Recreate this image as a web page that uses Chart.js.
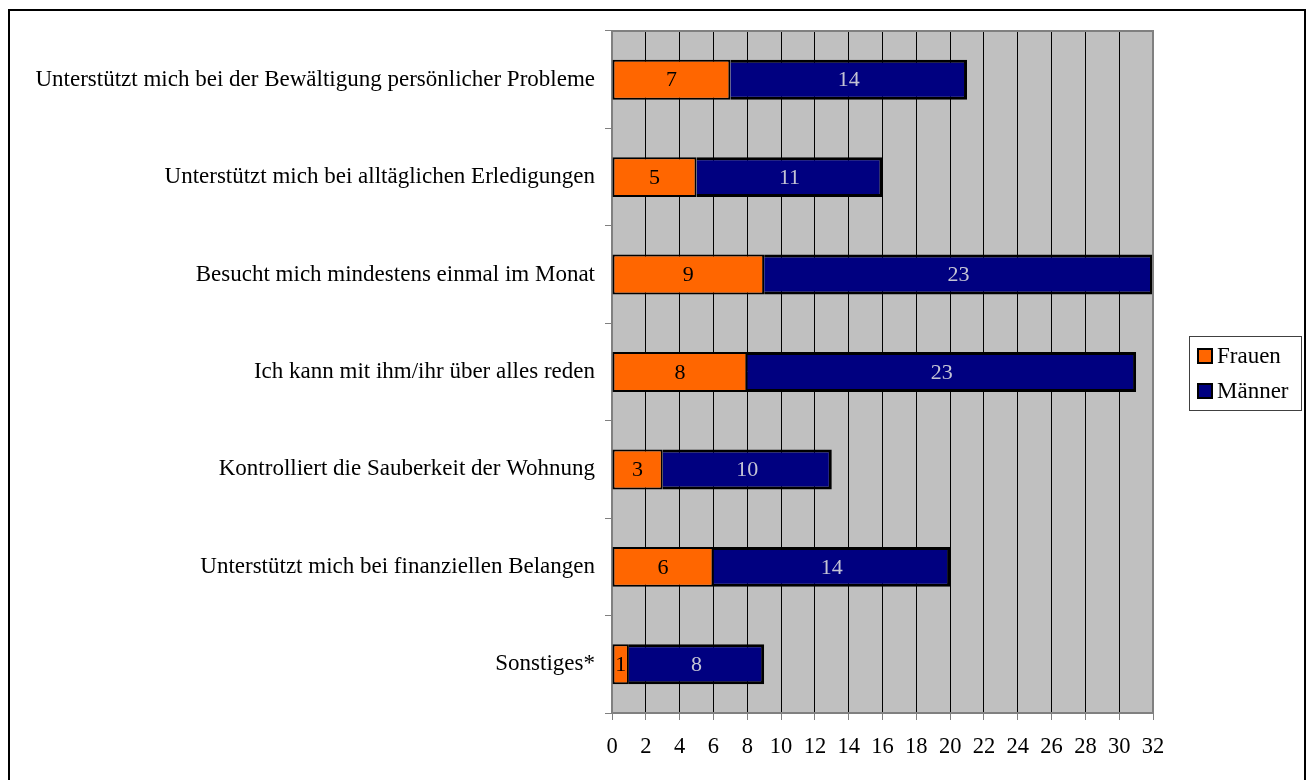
<!DOCTYPE html>
<html>
<head>
<meta charset="utf-8">
<script src="https://cdn.jsdelivr.net/npm/chart.js@4/dist/chart.umd.min.js"></script>
<style>
    body { margin: 0; background: #fff; }
    canvas { display: block; }
</style>
</head>
<body>
<canvas id="chart" width="1310" height="780"></canvas>
<script>
var categories = [
    "Unterstützt mich bei der Bewältigung persönlicher Probleme",
    "Unterstützt mich bei alltäglichen Erledigungen",
    "Besucht mich mindestens einmal im Monat",
    "Ich kann mit ihm/ihr über alles reden",
    "Kontrolliert die Sauberkeit der Wohnung",
    "Unterstützt mich bei finanziellen Belangen",
    "Sonstiges*"
];
var frauen = [7, 5, 9, 8, 3, 6, 1];
var maenner = [14, 11, 23, 23, 10, 14, 8];
var seriesNames = ["Frauen", "Männer"];

var FONT = "'Liberation Serif', 'Times New Roman', serif";

// gray plot background + border, outer frame
var plotBackground = {
    id: 'plotBackground',
    beforeDraw: function(chart){
        var ctx = chart.ctx, a = chart.chartArea;
        ctx.save();
        ctx.fillStyle = '#fff';
        ctx.fillRect(0, 0, chart.width, chart.height);
        ctx.fillStyle = '#C0C0C0';
        ctx.fillRect(a.left, a.top, a.right - a.left, a.bottom - a.top);
        ctx.restore();
    },
    afterDraw: function(chart){
        var ctx = chart.ctx, a = chart.chartArea;
        ctx.save();
        ctx.strokeStyle = '#808080';
        ctx.lineWidth = 2;
        ctx.beginPath();
        ctx.moveTo(a.left, a.top);
        ctx.lineTo(a.right, a.top);
        ctx.lineTo(a.right, a.bottom);
        ctx.stroke();
        // outer frame
        ctx.strokeStyle = '#000';
        ctx.lineWidth = 2;
        ctx.strokeRect(9, 10, 1296, 790);
        ctx.restore();
    }
};

// numbers in the middle of each bar segment
var valueLabels = {
    id: 'valueLabels',
    afterDatasetsDraw: function(chart){
        var ctx = chart.ctx;
        ctx.save();
        ctx.font = '22px ' + FONT;
        ctx.textAlign = 'center';
        ctx.textBaseline = 'middle';
        chart.data.datasets.forEach(function(ds, di){
            var meta = chart.getDatasetMeta(di);
            ctx.fillStyle = di == 0 ? '#000' : '#C4C4D4';
            meta.data.forEach(function(el, i){
                var p = el.getProps(['x', 'y', 'base'], true);
                ctx.fillText(ds.data[i], (p.x + p.base) / 2, p.y + 1);
            });
        });
        ctx.restore();
    }
};

// legend box on the right
var boxLegend = {
    id: 'boxLegend',
    afterDraw: function(chart){
        var ctx = chart.ctx;
        var left = 1189, top = 336, w = 112, h = 74;
        ctx.save();
        ctx.strokeStyle = '#404040';
        ctx.lineWidth = 1;
        ctx.strokeRect(left + 0.5, top + 0.5, w, h);
        ctx.font = '23px ' + FONT;
        ctx.textBaseline = 'middle';
        ctx.textAlign = 'left';
        chart.data.datasets.forEach(function(ds, i){
            var cy = 356 + i * 35;
            ctx.fillStyle = ds.backgroundColor;
            ctx.fillRect(1198, cy - 7, 14, 14);
            ctx.strokeStyle = '#000';
            ctx.lineWidth = 2;
            ctx.strokeRect(1198, cy - 7, 14, 14);
            ctx.fillStyle = '#000';
            ctx.fillText(ds.label, 1217, cy + 1);
        });
        ctx.restore();
    }
};

var chart = new Chart(document.getElementById('chart').getContext('2d'), {
    type: 'bar',
    data: {
        labels: categories,
        datasets: [{
            label: seriesNames[0],
            data: frauen,
            backgroundColor: '#FF6600',
            borderColor: '#000',
            borderWidth: 2,
            borderSkipped: false
        }, {
            label: seriesNames[1],
            data: maenner,
            backgroundColor: '#000080',
            borderColor: '#000',
            borderWidth: {top: 3, right: 3, bottom: 3, left: 0},
            borderSkipped: false
        }]
    },
    plugins: [plotBackground, valueLabels, boxLegend],
    options: {
        indexAxis: 'y',
        responsive: false,
        animation: false,
        categoryPercentage: 1,
        barPercentage: 0.41,
        layout: {
            padding: {left: 0, right: 157, top: 31, bottom: 0}
        },
        plugins: {
            legend: {display: false},
            tooltip: {enabled: false}
        },
        scales: {
            x: {
                stacked: true,
                min: 0,
                max: 32,
                afterFit: function(s){ s.height = 67; },
                ticks: {
                    stepSize: 2,
                    autoSkip: false,
                    maxRotation: 0,
                    padding: 14,
                    color: '#000',
                    font: {family: FONT, size: 22.5}
                },
                grid: {
                    color: '#000',
                    lineWidth: 1,
                    tickColor: '#808080',
                    tickLength: 7
                },
                border: {color: '#808080', width: 2}
            },
            y: {
                stacked: true,
                afterFit: function(s){ s.width = 612; },
                ticks: {
                    padding: 10,
                    color: '#000',
                    font: {family: FONT, size: 23}
                },
                grid: {
                    offset: true,
                    drawOnChartArea: false,
                    color: '#808080',
                    tickLength: 7
                },
                border: {color: '#808080', width: 2}
            }
        }
    }
});
</script>
</body>
</html>
